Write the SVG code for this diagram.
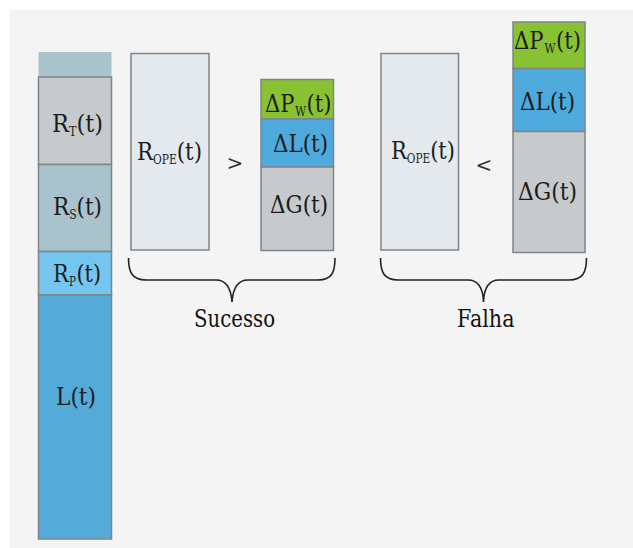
<svg xmlns="http://www.w3.org/2000/svg" width="633" height="548" viewBox="0 0 633 548">
<style>
  text { font-family: 'DejaVu Serif', 'Liberation Serif', serif; fill: #1c1c1c; }
  .m { font-size: 24px; }
  .s { font-size: 12px; }
  .op { font-size: 20px; fill: #333; text-anchor: middle; }
  .lbl { font-size: 24px; fill: #111; }
  .seg { stroke: #7e8489; stroke-width: 1.5; }
  .brace { fill: none; stroke: #222; stroke-width: 1.6; }
</style>
<rect x="0" y="0" width="633" height="548" fill="#ffffff"/>
<rect x="10" y="10" width="623" height="538" fill="#f4f4f4"/>

<g id="left-column">
  <rect x="38.5" y="52" width="73" height="25" fill="#a9c3cc"/>
  <rect class="seg" x="38.5" y="77" width="73" height="87.5" fill="#c6cacd"/>
  <rect class="seg" x="38.5" y="164.5" width="73" height="87" fill="#a9c3cc"/>
  <rect class="seg" x="38.5" y="251.5" width="73" height="43.5" fill="#74c5ef"/>
  <rect class="seg" x="38.5" y="295" width="73" height="244" fill="#54aad8"/>
  <text class="m" x="52" y="131.5" textLength="51" lengthAdjust="spacingAndGlyphs">R<tspan class="s" dy="4">T</tspan><tspan dy="-4">(t)</tspan></text>
  <text class="m" x="53" y="215" textLength="49" lengthAdjust="spacingAndGlyphs">R<tspan class="s" dy="4">S</tspan><tspan dy="-4">(t)</tspan></text>
  <text class="m" x="53" y="281.5" textLength="48" lengthAdjust="spacingAndGlyphs">R<tspan class="s" dx="0.5" dy="4">P</tspan><tspan dx="0.5" dy="-4">(t)</tspan></text>
  <text class="m" x="56" y="405" textLength="40" lengthAdjust="spacingAndGlyphs">L(t)</text>
</g>

<g id="sucesso-rope">
  <rect class="seg" x="131" y="53.5" width="78" height="196.5" fill="#e3e9ec"/>
  <text class="m" x="137" y="159.5" textLength="65" lengthAdjust="spacingAndGlyphs">R<tspan class="s" dy="4">OPE</tspan><tspan dy="-4">(t)</tspan></text>
</g>
<text class="op" x="235" y="170">&gt;</text>

<g id="sucesso-stack">
  <rect class="seg" x="261" y="79.5" width="72.5" height="39.5" fill="#88c232"/>
  <rect class="seg" x="261" y="119" width="72.5" height="48" fill="#4eaadc"/>
  <rect class="seg" x="261" y="167" width="72.5" height="83.5" fill="#c6cacd"/>
  <text class="m" x="265" y="111.5" textLength="66.5" lengthAdjust="spacingAndGlyphs">ΔP<tspan class="s" dx="1" dy="4">W</tspan><tspan dx="0.5" dy="-4">(t)</tspan></text>
  <text class="m" x="273" y="152" textLength="55" lengthAdjust="spacingAndGlyphs">ΔL(t)</text>
  <text class="m" x="270" y="213" textLength="58" lengthAdjust="spacingAndGlyphs">ΔG(t)</text>
</g>

<g id="falha-rope">
  <rect class="seg" x="381" y="53.5" width="77.5" height="196.5" fill="#e3e9ec"/>
  <text class="m" x="391" y="158.5" textLength="64" lengthAdjust="spacingAndGlyphs">R<tspan class="s" dy="4">OPE</tspan><tspan dy="-4">(t)</tspan></text>
</g>
<text class="op" x="484" y="172">&lt;</text>

<g id="falha-stack">
  <rect class="seg" x="513" y="22" width="72" height="46.5" fill="#88c232"/>
  <rect class="seg" x="513" y="68.5" width="72" height="63" fill="#4eaadc"/>
  <rect class="seg" x="513" y="131.5" width="72" height="121" fill="#c6cacd"/>
  <text class="m" x="514" y="48.5" textLength="67" lengthAdjust="spacingAndGlyphs">ΔP<tspan class="s" dx="1" dy="4">W</tspan><tspan dx="0.5" dy="-4">(t)</tspan></text>
  <text class="m" x="520" y="110" textLength="55" lengthAdjust="spacingAndGlyphs">ΔL(t)</text>
  <text class="m" x="518" y="200" textLength="59" lengthAdjust="spacingAndGlyphs">ΔG(t)</text>
</g>

<g id="connectors">
  <path class="brace" d="M128.5,258 C128.5,272 132,280 146,280 L216,280 C226,280 231,288 232,302 C233,288 238,280 248,280 L318,280 C332,280 335,272 335,258"/>
  <path class="brace" d="M380.5,258 C380.5,272 384,280 398,280 L468,280 C478,280 483,288 483.5,302 C484,288 489,280 499,280 L569,280 C583,280 586.5,272 586.5,258"/>
</g>

<g id="label-sucesso"><text class="lbl" x="194" y="327" textLength="81" lengthAdjust="spacingAndGlyphs">Sucesso</text></g>
<g id="label-falha"><text class="lbl" x="457" y="327" textLength="57.5" lengthAdjust="spacingAndGlyphs">Falha</text></g>
</svg>
